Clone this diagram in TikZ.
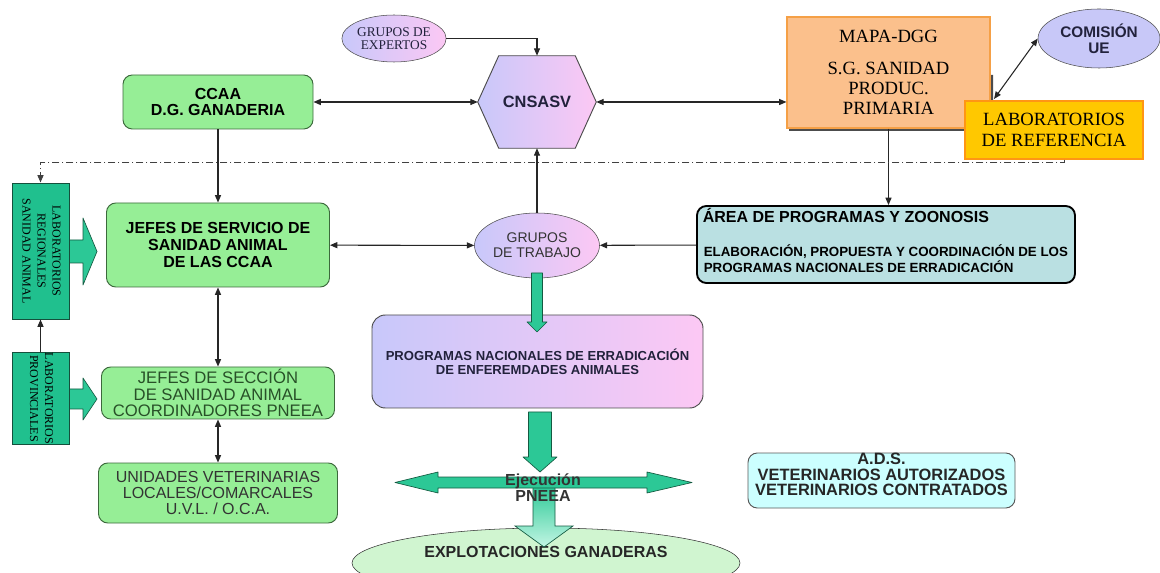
\documentclass[tikz,border=0pt]{standalone}
\usepackage{fontspec}
\setmainfont{Liberation Sans}
\newfontfamily\timesfont{Liberation Serif}
\usepackage{xcolor}
\definecolor{boxgreen}{RGB}{150,238,150}
\definecolor{boxgreenline}{RGB}{60,105,60}
\definecolor{labteal}{RGB}{32,192,142}
\definecolor{labline}{RGB}{20,80,60}
\definecolor{arrowteal}{RGB}{44,200,150}
\definecolor{arrowlight}{RGB}{195,246,228}
\definecolor{arrowline}{RGB}{20,90,65}
\definecolor{mylavender}{RGB}{200,200,250}
\definecolor{mypink}{RGB}{252,200,244}
\definecolor{mapaorange}{RGB}{251,192,140}
\definecolor{mapaline}{RGB}{245,160,70}
\definecolor{labgold}{RGB}{255,200,0}
\definecolor{labgoldline}{RGB}{255,150,20}
\definecolor{areateal}{RGB}{186,224,226}
\definecolor{adscyan}{RGB}{204,255,255}
\definecolor{explgreen}{RGB}{208,245,208}
\definecolor{comlav}{RGB}{200,200,248}
\definecolor{darktext}{RGB}{34,34,60}
\definecolor{secgreen}{RGB}{40,80,40}
\usepackage{graphicx}
\usepackage{tikz}
\usetikzlibrary{arrows.meta}
\usetikzlibrary{shapes.geometric}
\usetikzlibrary{backgrounds}
\newcommand{\fsz}[2]{\fontsize{#1}{#2}\selectfont}
\newcommand{\hexcut}{15.75pt}
\tikzset{
    common/.style={draw, inner sep=0pt, align=center},
    boxsize/.style 2 args={minimum width=#1*0.75pt, minimum height=#2*0.75pt},
    greenbox/.style={common, rounded corners=7pt, fill=boxgreen, draw=boxgreenline, line width=0.7pt},
    gradfill/.style={left color=mylavender, right color=mypink},
    oval/.style={common, ellipse, draw=black!70},
    lab/.style={common, fill=labteal, draw=labline, line width=0.7pt, font=\timesfont\fsz{9}{11.25}},
    conn/.style={-{Triangle[length=5.5pt,width=4.5pt]}, line width=0.8pt, draw=black!85},
    biconn/.style={conn, {Triangle[length=5.5pt,width=4.5pt]}-{Triangle[length=5.5pt,width=4.5pt]}},
    dashdot/.style={draw=black!75, line width=0.75pt, dash pattern=on 5.5pt off 2pt on 1pt off 2pt},
    blockarrow/.style={fill=arrowteal, draw=arrowline, line width=0.5pt, line join=round},
    fadearrow/.style={top color=arrowteal, bottom color=arrowlight, draw=arrowline, line width=0.5pt}
}

\begin{document}
\begin{tikzpicture}[x=0.75pt, y=-0.75pt]
    \useasboundingbox (0,0) rectangle (1160,573);

    \draw[blockarrow] (60,240) -- (83,240) -- (83,218) -- (97,251.5) -- (83,285) -- (83,263) -- (60,263) -- cycle;
    \draw[blockarrow] (60,389) -- (83,389) -- (83,378) -- (97,399) -- (83,420) -- (83,409) -- (60,409) -- cycle;

    \path
        node[oval, gradfill, boxsize={85}{47}, font=\timesfont\fsz{10}{9.5}, text=darktext] (expertos) at (394,38.5) {GRUPOS DE\\EXPERTOS}
        node[boxsize={118}{92}, font=\bfseries\fsz{12.3}{12}, text=darktext] (cnsasv) at (537,102) {CNSASV}
        node[greenbox, boxsize={190}{54}, font=\bfseries\fsz{12}{12.2}] (ccaa) at (218,102) {CCAA\\D.G. GANADERIA}
        node[common, fill=mapaorange, draw=mapaline, line width=0.8pt, boxsize={203}{111}, font=\timesfont\fsz{14}{15}] (mapa) at (888.5,72.5) {MAPA-DGG\\[9pt]S.G. SANIDAD\\PRODUC.\\PRIMARIA}
        node[common, fill=labgold, draw=labgoldline, line width=0.8pt, boxsize={178}{58}, font=\timesfont\fsz{14}{15.6}] (labref) at (1054,130) {LABORATORIOS\\DE REFERENCIA}
        node[oval, fill=comlav, boxsize={122}{59}, font=\bfseries\fsz{11.5}{12}, text=darktext] (comision) at (1099,38.5) {COMISIÓN\\UE};

    \path
        node[lab, boxsize={57}{136}] (labreg) at (40.5,251) {\rotatebox{-90}{\begin{tabular}{@{}c@{}}LABORATORIOS\\REGIONALES\\SANIDAD ANIMAL\end{tabular}}}
        node[lab, boxsize={57}{87}] (labprov) at (40.5,398.5) {\rotatebox{-90}{\begin{tabular}{@{}c@{}}LABORATORIOS\\PROVINCIALES\end{tabular}}}
        node[greenbox, boxsize={223}{84}, font=\bfseries\fsz{12}{12.4}] (jserv) at (218,245) {JEFES DE SERVICIO DE\\SANIDAD ANIMAL\\DE LAS CCAA}
        node[oval, gradfill, boxsize={125}{65}, font=\fsz{10.5}{11.25}, text=black!80] (gt) at (537,245.5) {GRUPOS\\DE TRABAJO}
        node[common, fill=areateal, rounded corners=7pt, line width=1.4pt, boxsize={378}{77}] (area) at (886,244.5) {}
        node[anchor=base west, font=\bfseries\fsz{12}{12}] (area-title) at ([shift={(2,17)}]area.north west) {ÁREA DE PROGRAMAS Y ZOONOSIS}
        node[anchor=base west, align=left, font=\bfseries\fsz{10}{12}] (area-body) at ([shift={(3,67)}]area.north west) {ELABORACIÓN, PROPUESTA Y COORDINACIÓN DE LOS\\PROGRAMAS NACIONALES DE ERRADICACIÓN}
        node[greenbox, boxsize={233}{52}, font=\fsz{12.5}{12.4}, text=secgreen] (jsec) at (218,393) {JEFES DE SECCIÓN\\DE SANIDAD ANIMAL\\COORDINADORES PNEEA}
        node[greenbox, boxsize={239}{60}, font=\fsz{12}{12}, text=black!80] (uvl) at (218,493) {UNIDADES VETERINARIAS\\LOCALES/COMARCALES\\U.V.L. / O.C.A.}
        node[common, gradfill, draw=black!70, rounded corners=10pt, line width=0.7pt, boxsize={331}{93}, font=\bfseries\fsz{9.8}{10.5}, text=darktext] (pn) at (537.5,361.5) {PROGRAMAS NACIONALES DE ERRADICACIÓN\\DE ENFEREMDADES ANIMALES}
        node[common, fill=adscyan, draw=black!65, rounded corners=7pt, line width=0.7pt, boxsize={267}{55}] (ads) at (881.5,480.5) {}
        node[align=center, font=\bfseries\fsz{12.3}{11.6}, text=black!85] (ads-text) at ([yshift=4.5pt]ads.center) {A.D.S.\\VETERINARIOS AUTORIZADOS\\VETERINARIOS CONTRATADOS}
        node[oval, fill=explgreen, draw=black!80, boxsize={388}{70}] (expl) at (546,563) {}
        node[font=\bfseries\fsz{12}{12}, text=black!85] (expl-text) at ([yshift=8.25pt]expl.center) {EXPLOTACIONES GANADERAS};

    \begin{pgfonlayer}{background}
        \shadedraw[gradfill, draw=black!70, line width=0.7pt]
            (cnsasv.west) -- ([xshift=\hexcut]cnsasv.north west) -- ([xshift=-\hexcut]cnsasv.north east)
            -- (cnsasv.east) -- ([xshift=-\hexcut]cnsasv.south east) -- ([xshift=\hexcut]cnsasv.south west) -- cycle;
        \fill[black!70] (789,128) rectangle (993,131) (990,75) rectangle (993,131);
    \end{pgfonlayer}

    \draw[blockarrow] (531.5,273) -- (542.5,273) -- (542.5,322) -- (547,322) -- (537,332) -- (527,322) -- (531.5,322) -- cycle;
    \draw[blockarrow] (528.5,412) -- (551.5,412) -- (551.5,457) -- (557,457) -- (540,472) -- (523,457) -- (528.5,457) -- cycle;
    \shadedraw[fadearrow] (533,486) -- (555,486) -- (555,526) -- (573,526) -- (544,547) -- (515,526) -- (533,526) -- cycle;
    \draw[blockarrow] (395,482.5) -- (438,472) -- (438,477) -- (647,477) -- (647,472) -- (692,482.5)
        -- (647,493) -- (647,488) -- (438,488) -- (438,493) -- cycle;
    \node[font=\bfseries\fsz{12}{11.5}, text=black!80, align=center] (ejec) at (543,487.5) {Ejecución\\PNEEA};

    \coordinate (mapa-corner) at (994,99);
    \coordinate (refdrop) at (1064,163);

    \draw[conn] (expertos) -| (cnsasv);
    \draw[biconn] (ccaa) -- (cnsasv);
    \draw[biconn] (cnsasv.east) -- (cnsasv.east -| mapa.west);
    \draw[biconn] (comision.west) -- (mapa-corner);
    \draw[biconn] (jserv) -- (gt);
    \draw[biconn] (jserv) -- (jsec);
    \draw[biconn] (jsec) -- (uvl);
    \draw[conn] (ccaa) -- (jserv);
    \draw[conn] (gt) -- (cnsasv);
    \draw[conn] (mapa.south) -- (mapa.south |- area.north);
    \draw[conn] (area) -- (gt);
    \draw[conn] (labprov) -- (labreg);
    \draw[dashdot, -{Triangle[length=5.5pt,width=4.5pt]}]
      ([xshift=7.5pt]labref.south) -- (refdrop) -| (labreg.north);
\end{tikzpicture}
\end{document}
